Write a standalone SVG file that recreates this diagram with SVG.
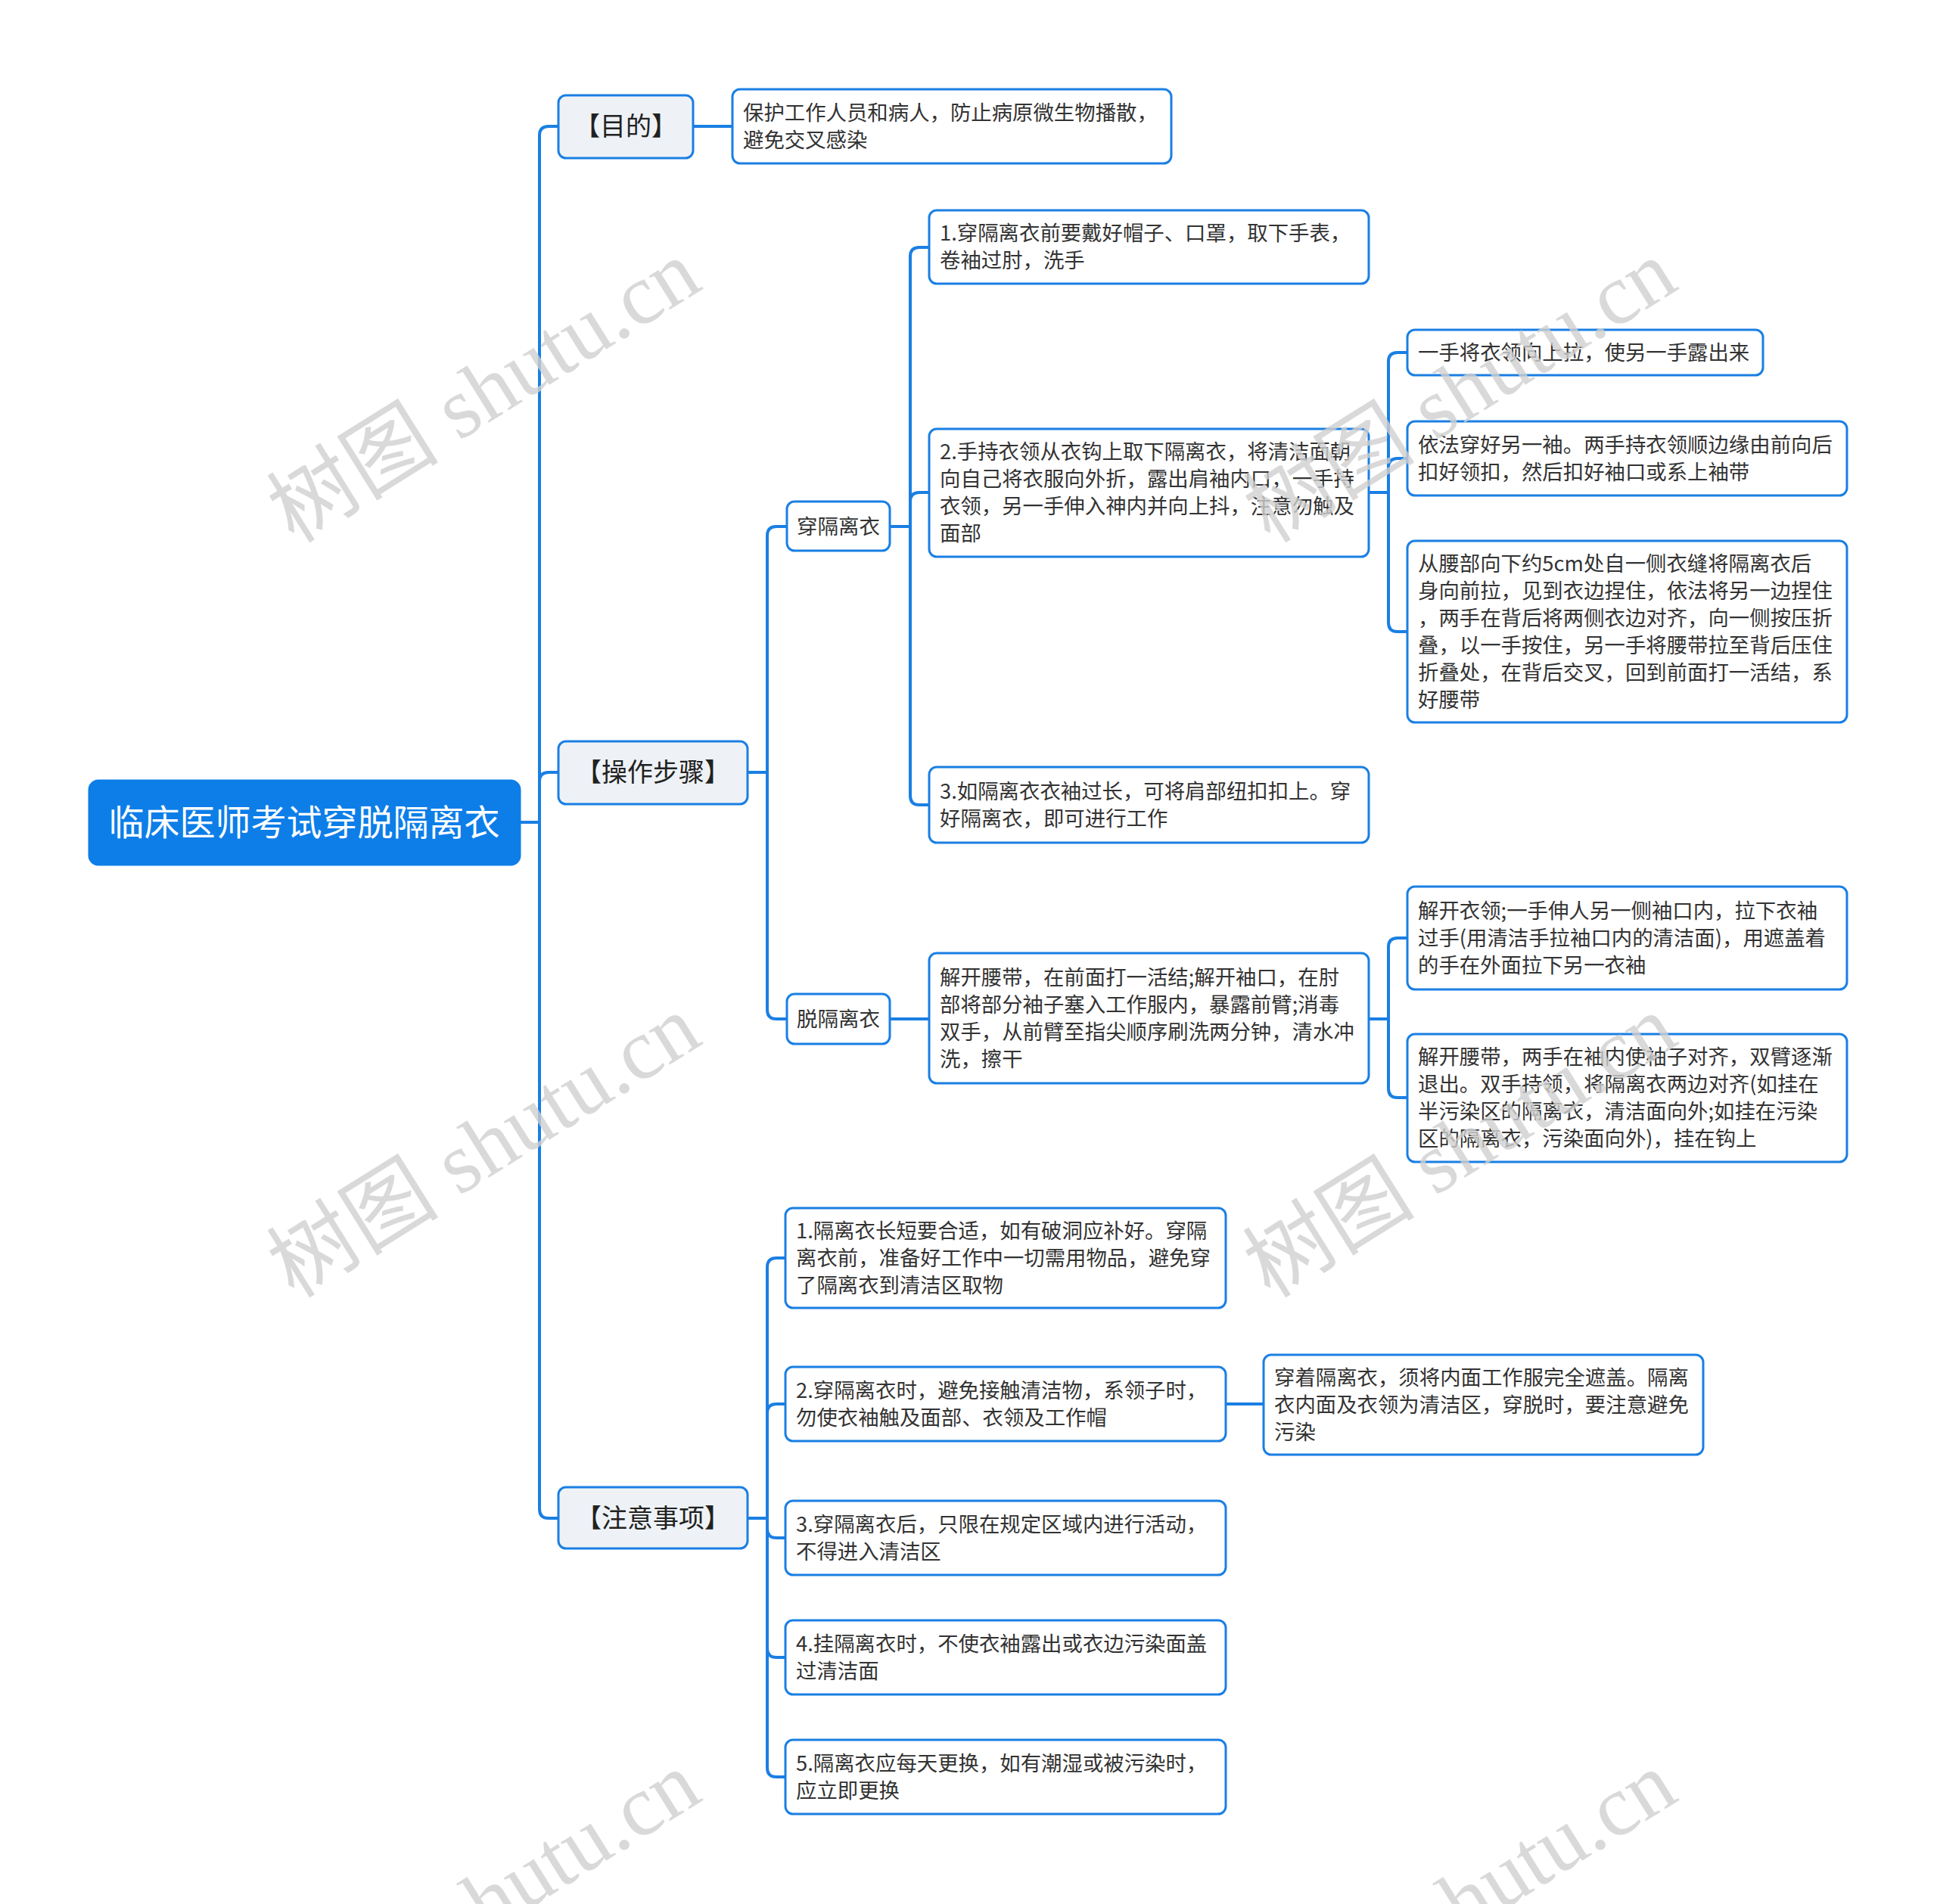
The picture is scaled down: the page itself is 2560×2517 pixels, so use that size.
<svg xmlns="http://www.w3.org/2000/svg" width="2560" height="2517" viewBox="0 0 2560 2517">
<style>
.bg{fill:#ffffff}
.root rect{fill:#0d7ee8;stroke:#0d7ee8;stroke-width:3}
.root text{fill:#ffffff;font-size:47px;text-anchor:middle}
.l1 rect{fill:#eef2f6;stroke:#1a7fe3;stroke-width:3}
.l1 text{fill:#222222;font-size:34px;text-anchor:middle}
.l2 rect{fill:#ffffff;stroke:#1a7fe3;stroke-width:3}
.l2 text{fill:#333333;font-size:27.5px;text-anchor:middle}
.leaf rect{fill:#ffffff;stroke:#1a7fe3;stroke-width:3}
.leaf text{fill:#333333;font-size:27.4px}
text{font-family:"Noto Sans CJK SC","Noto Sans",sans-serif}
.links path{fill:none;stroke:#1a7fe3;stroke-width:4;stroke-linecap:round;stroke-linejoin:round}
.wm text{font-family:"Liberation Serif","Noto Sans CJK SC",serif;font-size:114px;fill:#cfcfcf;fill-opacity:0.8;text-anchor:middle}
</style>
<rect class="bg" x="0" y="0" width="2560" height="2517"/>
<g class="links" id="connectors">
<path d="M687 1087 H713 V179 Q713 167 725 167 H738"/>
<path d="M713 1087 V1033 Q713 1021 725 1021 H738"/>
<path d="M713 1087 V1995 Q713 2007 725 2007 H738"/>
<path d="M916 167 H968"/>
<path d="M988 1021 H1014 V708 Q1014 696 1026 696 H1040"/>
<path d="M1014 1021 V1335 Q1014 1347 1026 1347 H1040"/>
<path d="M1176 696 H1203 V339 Q1203 327 1215 327 H1228"/>
<path d="M1203 696 V663 Q1203 651 1215 651 H1228"/>
<path d="M1203 696 V1052 Q1203 1064 1215 1064 H1228"/>
<path d="M1809 651 H1835 V478 Q1835 466 1847 466 H1860"/>
<path d="M1835 651 V618 Q1835 606 1847 606 H1860"/>
<path d="M1835 651 V823 Q1835 835 1847 835 H1860"/>
<path d="M1176 1347 H1228"/>
<path d="M1809 1347 H1835 V1252 Q1835 1240 1847 1240 H1860"/>
<path d="M1835 1347 V1439 Q1835 1451 1847 1451 H1860"/>
<path d="M988 2007 H1014 V1675 Q1014 1663 1026 1663 H1038"/>
<path d="M1014 2007 V1868 Q1014 1856 1026 1856 H1038"/>
<path d="M1014 2007 V2021 Q1014 2033 1026 2033 H1038"/>
<path d="M1014 2007 V2179 Q1014 2191 1026 2191 H1038"/>
<path d="M1014 2007 V2337 Q1014 2349 1026 2349 H1038"/>
<path d="M1620 1856 H1670"/>
</g>
<g id="root" class="root"><rect x="118" y="1032" width="569" height="111" rx="12"/><text x="402" y="1104">临床医师考试穿脱隔离衣</text></g>
<g id="n-mudi" class="l1"><rect x="738" y="126" width="178" height="83" rx="10"/><text x="827" y="179">【目的】</text></g>
<g id="n-buzhou" class="l1"><rect x="738" y="980" width="250" height="83" rx="10"/><text x="863" y="1033">【操作步骤】</text></g>
<g id="n-zhuyi" class="l1"><rect x="738" y="1966" width="250" height="81" rx="10"/><text x="863" y="2019">【注意事项】</text></g>
<g id="n-mudi-1" class="leaf"><rect x="968" y="118" width="580" height="98" rx="10"/><text x="982" y="159">保护工作人员和病人，防止病原微生物播散，</text><text x="982" y="195">避免交叉感染</text></g>
<g id="n-chuan" class="l2"><rect x="1040" y="663" width="136" height="65" rx="10"/><text x="1108" y="706">穿隔离衣</text></g>
<g id="n-tuo" class="l2"><rect x="1040" y="1314" width="136" height="66" rx="10"/><text x="1108" y="1357">脱隔离衣</text></g>
<g id="n-chuan-1" class="leaf"><rect x="1228" y="278" width="581" height="97" rx="10"/><text x="1242" y="318">1.穿隔离衣前要戴好帽子、口罩，取下手表，</text><text x="1242" y="354">卷袖过肘，洗手</text></g>
<g id="n-chuan-2" class="leaf"><rect x="1228" y="567" width="581" height="169" rx="10"/><text x="1242" y="607">2.手持衣领从衣钩上取下隔离衣，将清洁面朝</text><text x="1242" y="643">向自己将衣服向外折，露出肩袖内口，一手持</text><text x="1242" y="679">衣领，另一手伸入神内并向上抖，注意勿触及</text><text x="1242" y="715">面部</text></g>
<g id="n-chuan-3" class="leaf"><rect x="1228" y="1014" width="581" height="100" rx="10"/><text x="1242" y="1056">3.如隔离衣衣袖过长，可将肩部纽扣扣上。穿</text><text x="1242" y="1092">好隔离衣，即可进行工作</text></g>
<g id="n-chuan-2a" class="leaf"><rect x="1860" y="436" width="470" height="60" rx="10"/><text x="1874" y="476">一手将衣领向上拉，使另一手露出来</text></g>
<g id="n-chuan-2b" class="leaf"><rect x="1860" y="557" width="581" height="98" rx="10"/><text x="1874" y="598">依法穿好另一袖。两手持衣领顺边缘由前向后</text><text x="1874" y="634">扣好领扣，然后扣好袖口或系上袖带</text></g>
<g id="n-chuan-2c" class="leaf"><rect x="1860" y="715" width="581" height="240" rx="10"/><text x="1874" y="755">从腰部向下约5cm处自一侧衣缝将隔离衣后</text><text x="1874" y="791">身向前拉，见到衣边捏住，依法将另一边捏住</text><text x="1874" y="827">，两手在背后将两侧衣边对齐，向一侧按压折</text><text x="1874" y="863">叠，以一手按住，另一手将腰带拉至背后压住</text><text x="1874" y="899">折叠处，在背后交叉，回到前面打一活结，系</text><text x="1874" y="935">好腰带</text></g>
<g id="n-tuo-1" class="leaf"><rect x="1228" y="1260" width="581" height="172" rx="10"/><text x="1242" y="1302">解开腰带，在前面打一活结;解开袖口，在肘</text><text x="1242" y="1338">部将部分袖子塞入工作服内，暴露前臂;消毒</text><text x="1242" y="1374">双手，从前臂至指尖顺序刷洗两分钟，清水冲</text><text x="1242" y="1410">洗，擦干</text></g>
<g id="n-tuo-1a" class="leaf"><rect x="1860" y="1172" width="581" height="136" rx="10"/><text x="1874" y="1214">解开衣领;一手伸人另一侧袖口内，拉下衣袖</text><text x="1874" y="1250">过手(用清洁手拉袖口内的清洁面)，用遮盖着</text><text x="1874" y="1286">的手在外面拉下另一衣袖</text></g>
<g id="n-tuo-1b" class="leaf"><rect x="1860" y="1367" width="581" height="169" rx="10"/><text x="1874" y="1407">解开腰带，两手在袖内使袖子对齐，双臂逐渐</text><text x="1874" y="1443">退出。双手持领，将隔离衣两边对齐(如挂在</text><text x="1874" y="1479">半污染区的隔离衣，清洁面向外;如挂在污染</text><text x="1874" y="1515">区的隔离衣，污染面向外)，挂在钩上</text></g>
<g id="n-zhuyi-1" class="leaf"><rect x="1038" y="1597" width="582" height="132" rx="10"/><text x="1052" y="1637">1.隔离衣长短要合适，如有破洞应补好。穿隔</text><text x="1052" y="1673">离衣前，准备好工作中一切需用物品，避免穿</text><text x="1052" y="1709">了隔离衣到清洁区取物</text></g>
<g id="n-zhuyi-2" class="leaf"><rect x="1038" y="1807" width="582" height="98" rx="10"/><text x="1052" y="1848">2.穿隔离衣时，避免接触清洁物，系领子时，</text><text x="1052" y="1884">勿使衣袖触及面部、衣领及工作帽</text></g>
<g id="n-zhuyi-2a" class="leaf"><rect x="1670" y="1791" width="581" height="132" rx="10"/><text x="1684" y="1831">穿着隔离衣，须将内面工作服完全遮盖。隔离</text><text x="1684" y="1867">衣内面及衣领为清洁区，穿脱时，要注意避免</text><text x="1684" y="1903">污染</text></g>
<g id="n-zhuyi-3" class="leaf"><rect x="1038" y="1984" width="582" height="98" rx="10"/><text x="1052" y="2025">3.穿隔离衣后，只限在规定区域内进行活动，</text><text x="1052" y="2061">不得进入清洁区</text></g>
<g id="n-zhuyi-4" class="leaf"><rect x="1038" y="2142" width="582" height="98" rx="10"/><text x="1052" y="2183">4.挂隔离衣时，不使衣袖露出或衣边污染面盖</text><text x="1052" y="2219">过清洁面</text></g>
<g id="n-zhuyi-5" class="leaf"><rect x="1038" y="2300" width="582" height="98" rx="10"/><text x="1052" y="2341">5.隔离衣应每天更换，如有潮湿或被污染时，</text><text x="1052" y="2377">应立即更换</text></g>
<g class="wm" id="watermarks">
<text transform="translate(660 550) rotate(-32)">树图 shutu.cn</text>
<text transform="translate(1950 550) rotate(-32)">树图 shutu.cn</text>
<text transform="translate(660 1548) rotate(-32)">树图 shutu.cn</text>
<text transform="translate(1950 1548) rotate(-32)">树图 shutu.cn</text>
<text transform="translate(660 2548) rotate(-32)">树图 shutu.cn</text>
<text transform="translate(1950 2548) rotate(-32)">树图 shutu.cn</text>
</g>
</svg>
